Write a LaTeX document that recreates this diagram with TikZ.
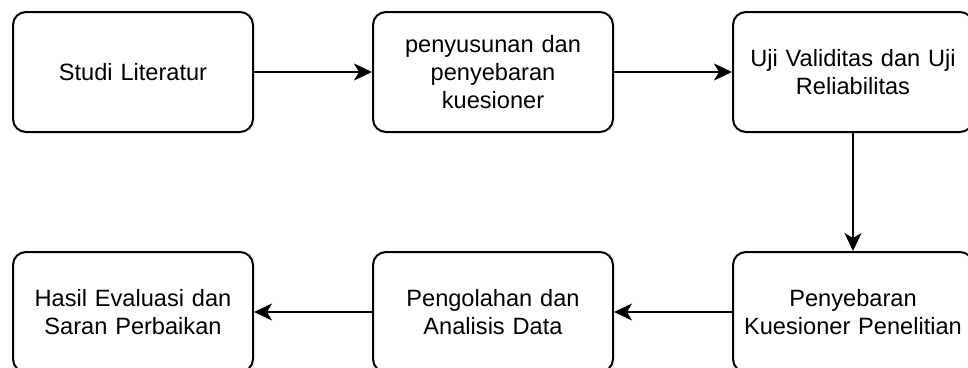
\documentclass[tikz,border=0pt]{standalone}
\usepackage{fontspec}
\setmainfont{Liberation Sans}
\usetikzlibrary{arrows.meta}
\begin{document}
\begin{tikzpicture}[x=1pt,y=1pt,
  stepbox/.style={draw=black, line width=2pt, rounded corners=13pt, minimum width=240pt, minimum height=120pt, text width=232pt, align=center, inner sep=0pt, font=\fontsize{23.6}{28.3}\selectfont},
  conn/.style={draw=black, line width=2pt, -{Stealth[length=18pt,width=17pt,inset=5pt]}}]
\useasboundingbox (0,0) rectangle (968,-367);
\clip (0,0) rectangle (968,-367);
\node[stepbox] (a) at (133,-72) {Studi Literatur};
\node[stepbox] (b) at (493,-72) {penyusunan dan\\penyebaran\\kuesioner};
\node[stepbox] (c) at (853,-72) {Uji Validitas dan Uji\\Reliabilitas};
\node[stepbox] (d) at (853,-312) {Penyebaran\\Kuesioner Penelitian};
\node[stepbox] (e) at (493,-312) {Pengolahan dan\\Analisis Data};
\node[stepbox] (f) at (133,-312) {Hasil Evaluasi dan\\Saran Perbaikan};
\draw[conn] (a) -- (b);
\draw[conn] (b) -- (c);
\draw[conn] (c) -- (d);
\draw[conn] (d) -- (e);
\draw[conn] (e) -- (f);
\end{tikzpicture}
\end{document}
